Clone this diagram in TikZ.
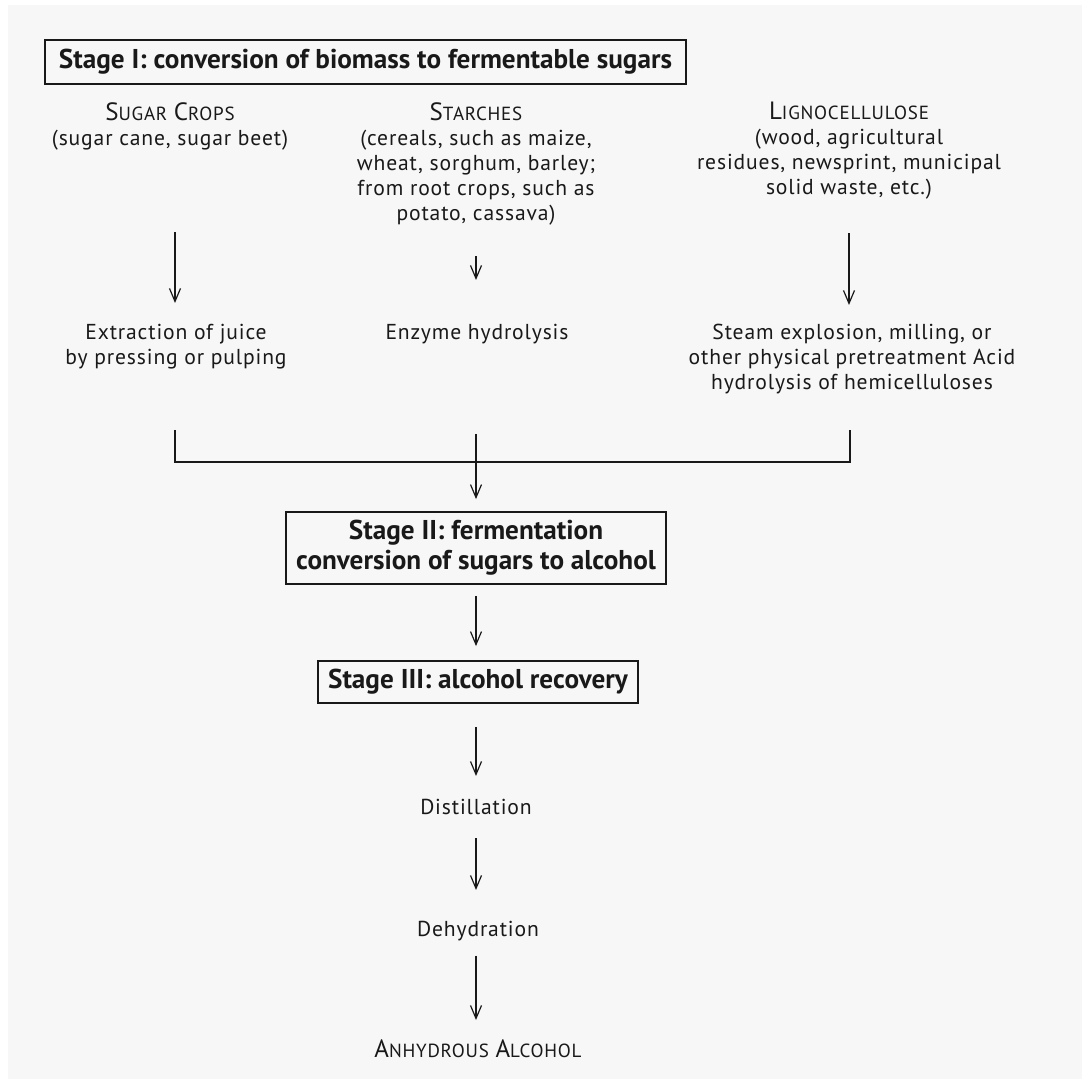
\documentclass[tikz,border=0pt]{standalone}
\usepackage{fontspec}
\setmainfont{PT Sans}
\usepackage{tikz}
\usetikzlibrary{
  arrows.meta,
  positioning
}
\definecolor{paper}{RGB}{247,247,247}
\definecolor{ink}{RGB}{25,25,25}
\newcommand{\fsc}[2]{{\fontsize{12.5}{14}\selectfont #1}{\fontsize{9.5}{11}\selectfont #2}}
\tikzset{
  stagebox/.style={draw=ink,line width=0.9pt,fill=paper,align=center,
    inner xsep=5pt,text=ink,font=\bfseries\fontsize{13.6}{15}\selectfont},
  plain/.style={align=center,inner sep=0pt,text=ink,
    font=\fontsize{10.8}{12.5}\selectfont\addfontfeature{LetterSpace=4}},
  flow/.style={-{Straight Barb[length=6.5pt,width=5.5pt]},line width=0.6pt,draw=ink},
  joinline/.style={line width=0.6pt,draw=ink}
}

\begin{document}
\begin{tikzpicture}[x=0.5pt,y=-0.5pt]
  \useasboundingbox (0,0) rectangle (1082,1079);
  \fill[paper] (8,5) rectangle (1082,1079);

  % stage I and its three feedstocks
  \node[stagebox,minimum width=320.5pt,minimum height=22pt] (s1) at (365.5,62)
    {Stage I: conversion of biomass to fermentable sugars};
  \node[plain,anchor=north] (sugar) at (170,102)
    {\fsc{S}{UGAR} \fsc{C}{ROPS}\\(sugar cane, sugar beet)};
  \node[plain,anchor=north] (starch) at (476,102)
    {\fsc{S}{TARCHES}\\(cereals, such as maize,\\wheat, sorghum, barley;\\from root crops, such as\\potato, cassava)};
  \node[plain,anchor=north] (ligno) at (849,102)
    {\fsc{L}{IGNOCELLULOSE}\\(wood, agricultural\\residues, newsprint, municipal\\solid waste, etc.)};

  \node[plain,anchor=north] (juice) at (176,324)
    {Extraction of juice\\by pressing or pulping};
  \node[plain,anchor=north] (enzyme) at (477,324) {Enzyme hydrolysis};
  \node[plain,anchor=north] (steam) at (852,324)
    {Steam explosion, milling, or\\other physical pretreatment Acid\\hydrolysis of hemicelluloses};

  \draw[flow,shorten <=41pt,shorten >=10.5pt] (sugar.south -| 175,0) -- (juice.north -| 175,0);
  \draw[flow,shorten <=15.5pt,shorten >=22pt] (starch) -- (starch |- enzyme.north);
  \draw[flow,shorten <=16.5pt,shorten >=9.5pt] (ligno) -- (ligno |- steam.north);

  % joining bracket
  \coordinate (jl) at (175,430);
  \coordinate (jr) at (850,430);
  \coordinate (jm) at (476,434);
  \draw[joinline] (jl) -- ++(0,32) -| (jr);

  % stages II and III, then recovery
  \node[stagebox,minimum height=36pt] (s2) at (476,548)
    {Stage II: fermentation\\conversion of sugars to alcohol};
  \node[stagebox,minimum height=21pt] (s3) at (478,682)
    {Stage III: alcohol recovery};
  \node[plain,anchor=north] (dist) at (476,799) {Distillation};
  \node[plain,anchor=north] (dehyd) at (478,921) {Dehydration};
  \node[plain,anchor=north] (anh) at (478,1039) {\fsc{A}{NHYDROUS} \fsc{A}{LCOHOL}};

  \draw[flow,shorten >=6pt] (jm) -- (jm |- s2.north);
  \draw[flow,shorten <=5.5pt,shorten >=7pt] (s2.south -| jm) -- (s3.north -| jm);
  \draw[flow,shorten <=11.5pt,shorten >=11.5pt] (s3.south -| jm) -- (dist.north -| jm);
  \draw[flow,shorten <=11.5pt,shorten >=15.5pt] (dist.south -| jm) -- (dehyd.north -| jm);
  \draw[flow,shorten <=7pt,shorten >=9.5pt] (dehyd.south -| jm) -- (anh.north -| jm);
\end{tikzpicture}
\end{document}
